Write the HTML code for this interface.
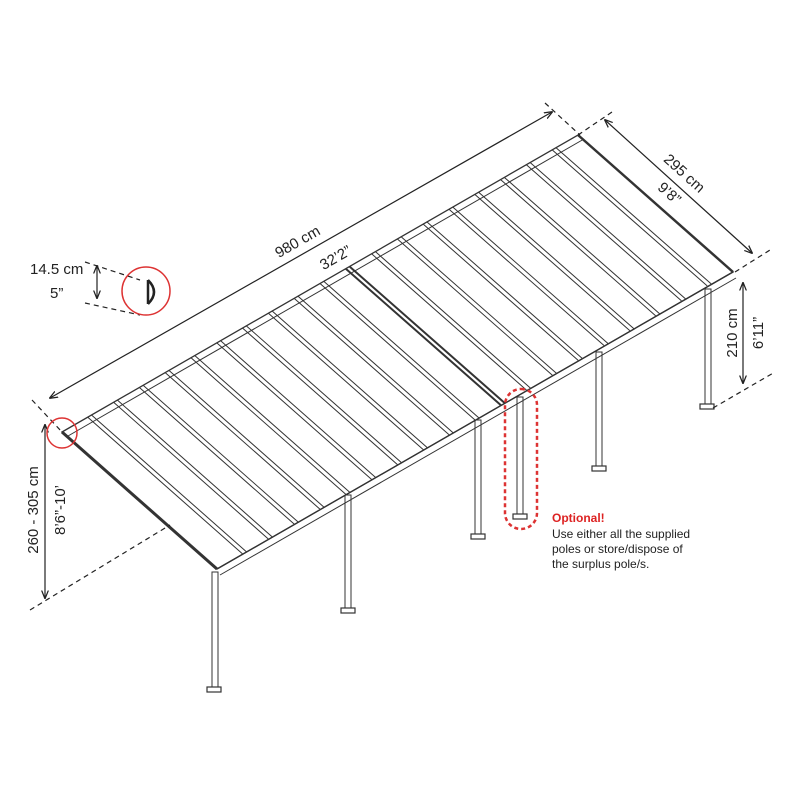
<!DOCTYPE html><html><head><style>body{margin:0;background:#fff}svg{display:block}text{font-family:"Liberation Sans",sans-serif;fill:#222}</style></head><body>
<svg width="800" height="800" viewBox="0 0 800 800" xmlns="http://www.w3.org/2000/svg">
<defs><marker id="ar" viewBox="0 0 10 10" refX="9" refY="5" markerWidth="7" markerHeight="7" orient="auto-start-reverse"><path d="M0,1 L10,5 L0,9" fill="none" stroke="#222" stroke-width="1.5"/></marker></defs>
<g stroke="#333" fill="none" stroke-width="1">
<g fill="#fff">
<rect x="212" y="572" width="6" height="118"/><rect x="345" y="495" width="6" height="115"/><rect x="475" y="420" width="6" height="116"/><rect x="596" y="352" width="6" height="116"/><rect x="705" y="289" width="6" height="117"/><rect x="517" y="397" width="6" height="119"/>
</g>
<g fill="#fff" stroke-width="1.2"><rect x="207" y="687" width="14" height="5"/><rect x="341" y="608" width="14" height="5"/><rect x="471" y="534" width="14" height="5"/><rect x="592" y="466" width="14" height="5"/><rect x="700" y="404" width="14" height="5"/><rect x="513" y="514" width="14" height="5"/></g>
<polygon points="62,432 578,135 733,272 217,569" fill="#fff" stroke-width="1.3"/>
<polyline points="68,436 584,139" />
<polyline points="62,432 217,569" stroke-width="3"/>
<polyline points="217,569 733,272" stroke-width="1.3"/>
<polyline points="220,575 736,278" />
<polyline points="578,135 733,272" stroke-width="2.5"/>
<g stroke-width="1">
<path d="M87.8,417.2L242.8,554.1M91.8,415.2L246.8,552.1"/>
<path d="M113.6,402.3L268.6,539.2M117.6,400.3L272.6,537.2"/>
<path d="M139.4,387.5L294.4,524.3M143.4,385.5L298.4,522.3"/>
<path d="M165.2,372.6L320.2,509.4M169.2,370.6L324.2,507.4"/>
<path d="M191,357.8L346,494.5M195,355.8L350,492.5"/>
<path d="M216.8,342.9L371.8,479.6M220.8,340.9L375.8,477.6"/>
<path d="M242.6,328.1L397.6,464.7M246.6,326.1L401.6,462.7"/>
<path d="M268.4,313.2L423.4,449.8M272.4,311.2L427.4,447.8"/>
<path d="M294.2,298.4L449.2,434.9M298.2,296.4L453.2,432.9"/>
<path d="M320,283.5L475,420M324,281.5L479,418"/>
<path d="M345.8,268.7L500.8,405.1M349.8,266.7L504.8,403.1" stroke-width="2"/>
<path d="M371.6,253.8L526.6,390.2M375.6,251.8L530.6,388.2"/>
<path d="M397.4,239L552.4,375.3M401.4,237L556.4,373.3"/>
<path d="M423.2,224.1L578.2,360.4M427.2,222.1L582.2,358.4"/>
<path d="M449,209.3L604,345.5M453,207.3L608,343.5"/>
<path d="M474.8,194.4L629.8,330.6M478.8,192.4L633.8,328.6"/>
<path d="M500.6,179.6L655.6,315.7M504.6,177.6L659.6,313.7"/>
<path d="M526.4,164.7L681.4,300.8M530.4,162.7L685.4,298.8"/>
<path d="M552.2,149.9L707.2,285.9M556.2,147.9L711.2,283.9"/>
</g>
</g>
<g stroke="#222" stroke-width="1.2" fill="none">
<line x1="50" y1="398" x2="552" y2="112" marker-start="url(#ar)" marker-end="url(#ar)"/>
<line x1="605" y1="120" x2="752" y2="253" marker-start="url(#ar)" marker-end="url(#ar)"/>
<line x1="743" y1="283" x2="743" y2="383" marker-start="url(#ar)" marker-end="url(#ar)"/>
<line x1="45" y1="425" x2="45" y2="598" marker-start="url(#ar)" marker-end="url(#ar)"/>
<line x1="97" y1="266" x2="97" y2="298" marker-start="url(#ar)" marker-end="url(#ar)"/>
<g stroke-dasharray="5,4">
<line x1="32" y1="400" x2="62" y2="432"/><line x1="545" y1="103" x2="580" y2="135"/><line x1="578" y1="135" x2="615" y2="110"/>
<line x1="735" y1="272" x2="770" y2="250"/><line x1="713" y1="408" x2="775" y2="372"/><line x1="30" y1="610" x2="170" y2="525"/>
<line x1="85" y1="262" x2="140" y2="280"/><line x1="85" y1="303" x2="140" y2="315"/>
</g>
</g>
<g stroke="#d33" fill="none" stroke-width="1.5">
<circle cx="62" cy="433" r="15"/><circle cx="146" cy="291" r="24"/>
<rect x="505" y="389" width="32" height="140" rx="16" stroke-dasharray="4,3" stroke-width="2.5"/>
</g>
<path d="M148,280 L148,304 M148,280 Q160,292 148,304" stroke="#222" stroke-width="2.5" fill="none"/>
<g font-size="15">
<text x="300" y="246" transform="rotate(-30 300 246)" text-anchor="middle">980 cm</text>
<text x="338" y="262" transform="rotate(-30 338 262)" text-anchor="middle">32’2”</text>
<text x="681" y="177" transform="rotate(42 681 177)" text-anchor="middle">295 cm</text>
<text x="666" y="197" transform="rotate(42 666 197)" text-anchor="middle">9’8”</text>
<text x="737" y="333" transform="rotate(-90 737 333)" text-anchor="middle">210 cm</text>
<text x="763" y="333" transform="rotate(-90 763 333)" text-anchor="middle">6’11”</text>
<text x="38" y="510" transform="rotate(-90 38 510)" text-anchor="middle">260 - 305 cm</text>
<text x="65" y="510" transform="rotate(-90 65 510)" text-anchor="middle">8’6”-10’</text>
<text x="30" y="274">14.5 cm</text>
<text x="50" y="298">5”</text>
</g>
<g font-size="12">
<text x="552" y="522" style="fill:#d22;font-weight:bold">Optional!</text>
<text x="552" y="538">Use either all the supplied</text>
<text x="552" y="553">poles or store/dispose of</text>
<text x="552" y="568">the surplus pole/s.</text>
</g>
</svg></body></html>
